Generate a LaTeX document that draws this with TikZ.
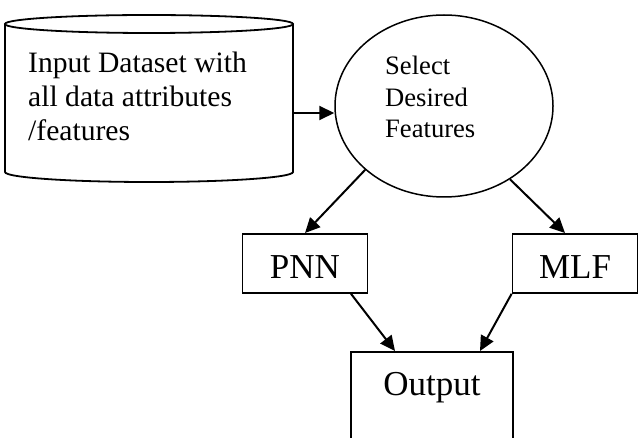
\documentclass[tikz,border=0pt]{standalone}
\usepackage{fontspec}
\setmainfont{Liberation Serif}
\usetikzlibrary{shapes.geometric,arrows.meta}

\tikzset{
  procbox/.style={draw, line width=1.8pt, inner sep=0pt, minimum width=125pt, text height=45pt, text depth=14pt, font=\fontsize{35}{40}\selectfont},
  flow/.style={line width=2pt, -{Triangle[length=15pt,width=14pt]}},
}

\begin{document}
\begin{tikzpicture}[x=1pt,y=-1pt]

        % sfondo e ritaglio
        \fill[white] (0,0) rectangle (644,438);
        \clip (0,0) rectangle (644,438);

        % cilindro dei dati
        \draw[line width=1.8pt] (5,24) -- (5,172) arc[start angle=180,end angle=360,x radius=144pt,y radius=10pt] -- (293,24);
        \draw[line width=1.8pt] (149,24) ellipse [x radius=144pt, y radius=9pt];
        \node[minimum width=288pt, minimum height=148pt, inner sep=0pt] (data) at (149,98) {};
        \node[anchor=north west, align=left, inner sep=0pt, font=\fontsize{29.6}{34}\selectfont] (datatxt) at (28,52) {Input Dataset with\\all data attributes\\/features};
        \coordinate (dataout) at ([yshift=-15pt]data.east);

        % ellisse di selezione
        \node[ellipse, draw, line width=1.5pt, minimum width=218pt, minimum height=182pt, inner sep=0pt] (sel) at (444,106) {};
        \node[anchor=north west, align=left, inner sep=0pt, font=\fontsize{26.6}{31.5}\selectfont] (seltxt) at (385,56) {Select\\Desired\\Features};

        % classificatori e uscita
        \node[procbox, anchor=north] (pnn) at (305,233) {PNN};
        \node[procbox, anchor=north] (mlf) at (575,233) {MLF};
        \node[procbox, anchor=north, minimum width=162pt, text height=44pt, text depth=80pt] (out) at (432,351) {Output};

        % frecce
        \draw[flow] (dataout) -- (sel.west |- dataout);
        \draw[flow] (sel.219) -- (pnn.north);
        \draw[flow] (sel.312) -- ([xshift=-10pt]mlf.north);
        \draw[flow] ([xshift=46pt]pnn.south) -- ([xshift=-37pt]out.north);
        \draw[flow] (mlf.south west) -- ([xshift=48pt]out.north);

\end{tikzpicture}
\end{document}
